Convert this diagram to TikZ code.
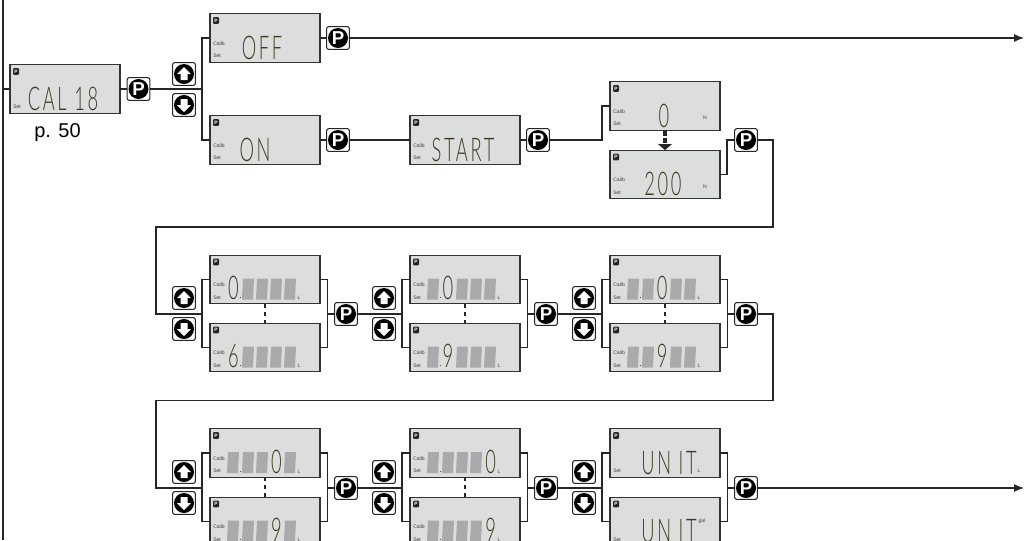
\documentclass[tikz,border=0pt]{standalone}
\usepackage{fontspec}
\usepackage{xcolor}
\setmainfont{Liberation Sans}
\newfontfamily\lcdfont[FakeStretch=0.56,LetterSpace=8]{Lato Light}
\usetikzlibrary{arrows.meta}

\definecolor{lcdgray}{HTML}{DCDDDD}
\definecolor{lcdblock}{HTML}{A9AAAB}
\definecolor{lcdink}{HTML}{3C3C22}

\tikzset{
  flow/.style={line width=.9pt,draw=black!85},
  lcdbox/.style={draw=black!80,fill=lcdgray,line width=.8pt,minimum width=82.5pt,minimum height=36.5pt,inner sep=0pt,outer sep=0pt},
  lcdtext/.style={text=lcdink,inner sep=0pt,anchor=base,font=\lcdfont\fontsize{24.5}{25}\selectfont},
  tinytext/.style={text=black!75,inner sep=0pt,font=\fontsize{3.8}{4}\selectfont},
  tinyp/.style={fill=black!85,text=white,rounded corners=.8pt,inner sep=0pt,minimum width=4.5pt,minimum height=5pt,font=\bfseries\fontsize{3.6}{4}\selectfont},
  keybox/.style={draw=black!85,fill=white,line width=.8pt,rounded corners=1.5pt,minimum size=17pt,inner sep=0pt,outer sep=0pt},
  keydisc/.style={circle,fill=black,text=white,minimum size=15pt,inner sep=0pt,font=\bfseries\fontsize{14}{14}\selectfont},
}

% display body, its P sign and the Set label
\newcommand{\display}[2]{
  \node[lcdbox] (#1) at (#2) {};
  \node[tinyp] (#1p) at ([shift={(-49,-17.5)}]#1.center) {P};
  \node[tinytext,anchor=west] (#1set) at ([shift={(-52,18)}]#1.center) {Set};
}
\newcommand{\calib}[1]{\node[tinytext,anchor=west] (#1cal) at ([shift={(-52,5.5)}]#1.center) {Calib};}
\newcommand{\lcdword}[3]{\node[lcdtext] (#1word) at ([shift={(#2,21)}]#1.center) {#3};}
\newcommand{\lcdunit}[4]{\node[tinytext] (#1unit) at ([shift={(#2,#3)}]#1.center) {#4};}

% four grey digit places, one decimal point, one lit digit
\newcommand{\digits}[3]{
  \foreach \slot/\off in {1/-37,2/-22,3/-8,4/6,5/20}{
    \ifnum\slot=#2\relax
    \else
      \fill[lcdblock] ([shift={(\off-1,20)}]#1.center) -- ++(11,0) -- ++(1,-21) -- ++(-11,0) -- cycle;
    \fi
  }
  \fill[black!70] ([shift={(-25.5,18.5)}]#1.center) rectangle ++(1,-1);
  \pgfmathsetmacro{\digx}{-37+14.3*(#2-1)+5.5}
  \node[lcdtext] (#1word) at ([shift={(\digx,20)}]#1.center) {#3};
  \lcdunit{#1}{34}{18.5}{L}
}

\newcommand{\pkey}[2]{
  \node[keybox] (#1) at (#2) {};
  \node[keydisc] (#1d) at (#1) {P};
}
\newcommand{\updown}[3]{
  \node[keybox] (up#1) at (#2,#3-15.5) {};
  \node[keydisc] (up#1d) at (up#1) {};
  \fill[white] ([shift={(0,-7)}]up#1.center) -- ++(7,7) -- ++(-3.5,0) -- ++(0,6) -- ++(-7,0) -- ++(0,-6) -- ++(-3.5,0) -- cycle;
  \node[keybox] (down#1) at (#2,#3+15.5) {};
  \node[keydisc] (down#1d) at (down#1) {};
  \fill[white] ([shift={(0,7)}]down#1.center) -- ++(7,-7) -- ++(-3.5,0) -- ++(0,-6) -- ++(-7,0) -- ++(0,6) -- ++(-3.5,0) -- cycle;
}

\begin{document}
\begin{tikzpicture}[x=.75pt,y=-.75pt]
    \clip (0,0) rectangle (1024,540);

    % First row
    \display{cal}{65,89}
    \lcdword{cal}{-2}{CAL 18}
    \node[inner sep=0pt,font=\fontsize{15}{17}\selectfont] (calpage) at (57.5,133) {p. 50};
    \display{off}{265,38}\calib{off}
    \lcdword{off}{-3}{OFF}
    \display{on}{265,140}\calib{on}
    \lcdword{on}{-10}{ON}
    \display{start}{465,140}\calib{start}
    \lcdword{start}{-2}{START}
    \display{zero}{665,106}\calib{zero}
    \lcdword{zero}{-1}{0}
    \lcdunit{zero}{40}{12}{N}
    \display{load}{665,174.5}\calib{load}
    \lcdword{load}{-2}{200}
    \lcdunit{load}{40}{12}{N}

    % Second and third row
    \foreach \name/\px/\py/\place/\val in {a/265/279.5/1/0,b/265/347.5/1/6,c/465/279.5/2/0,d/465/347.5/2/9,e/665/279.5/3/0,f/665/347.5/3/9,g/265/453/4/0,h/265/521.5/4/9,i/465/453/5/0,j/465/521.5/5/9}{
        \display{\name}{\px,\py}\calib{\name}
        \digits{\name}{\place}{\val}
    }
    \display{unitl}{665,453}
    \lcdword{unitl}{4}{UN IT}
    \lcdunit{unitl}{34}{17.5}{L}
    \display{unitg}{665,521.5}
    \lcdword{unitg}{4}{UN IT}
    \lcdunit{unitg}{37}{-0.5}{gal}

    % Keys
    \pkey{pcal}{138.5,89}
    \pkey{poff}{338,38}
    \pkey{pon}{338,140}
    \pkey{pstart}{538,140}
    \pkey{pload}{746,140}
    \foreach \px in {346,546,746}{
        \pkey{pa\px}{\px,314}
        \pkey{pb\px}{\px,488}
    }
    \updown{cal}{184}{89.5}
    \updown{aa}{184}{313.5}
    \updown{ab}{384}{313.5}
    \updown{ac}{584}{313.5}
    \updown{ba}{184}{487.5}
    \updown{bb}{384}{487.5}
    \updown{bc}{584}{487.5}

    % Free ends and bends
    \coordinate (railtop) at (3,0);
    \coordinate (railend) at (3,540);
    \coordinate (railcal) at (3,89);
    \coordinate (forkcal) at (202,89);
    \coordinate (forkzero) at (602,140);
    \coordinate (joinload) at (727,140);
    \coordinate (turnb) at (773,140);
    \coordinate (turnc) at (773,314);
    \coordinate (endoff) at (1024,38);
    \coordinate (endunit) at (1024,488);

    % Connectors
    \draw[flow] (railtop) -- (railend);
    \draw[flow] (railcal) -- (cal);
    \draw[flow] (cal) -- (pcal);
    \draw[flow] (pcal) -- (forkcal);
    \draw[flow] (off.west) -| (forkcal);
    \draw[flow] (on.west) -| (forkcal);
    \draw[flow] (off) -- (poff);
    \draw[flow,-{Latex[length=7.5pt,width=6pt]}] (poff) -- (endoff);
    \draw[flow] (on) -- (pon);
    \draw[flow] (pon) -- (start);
    \draw[flow] (start) -- (pstart);
    \draw[flow] (pstart) -- (forkzero) |- (zero.west);
    \draw[flow] (load.east) -| (joinload) -- (pload);
    \draw[line width=3pt,draw=black!85,dash pattern=on 4pt off 1.5pt,-{Triangle[length=4.5pt,width=10pt]}] (zero) -- (load);

    % Row joints
    \draw[flow] (pload) -- (turnb) |- (156,227) |- (202,314);
    \draw[flow] (pa746) -- (turnc) |- (156,400.5) |- (202,488);
    \draw[flow,-{Latex[length=7.5pt,width=6pt]}] (pb746) -- (endunit);
    \foreach \ra/\rb/\pout/\fx/\jx/\jy in {a/b/pa346/202/327.5/314,c/d/pa546/402/527.5/314,e/f/pa746/602/727.5/314,g/h/pb346/202/327.5/488,i/j/pb546/402/527.5/488,unitl/unitg/pb746/602/727.5/488}{
        \draw[flow] (\ra.west) -| (\fx,\jy) |- (\rb.west);
        \draw[flow] (\ra.east) -| (\jx,\jy) |- (\rb.east);
        \draw[flow] (\jx,\jy) -- (\pout);
    }
    \foreach \ra/\rb in {a/b,c/d,e/f,g/h,i/j}{
        \draw[flow,dashed] (\ra) -- (\rb);
    }
    \draw[flow] (pa346) -- (402,314);
    \draw[flow] (pa546) -- (602,314);
    \draw[flow] (pb346) -- (402,488);
    \draw[flow] (pb546) -- (602,488);
\end{tikzpicture}
\end{document}
